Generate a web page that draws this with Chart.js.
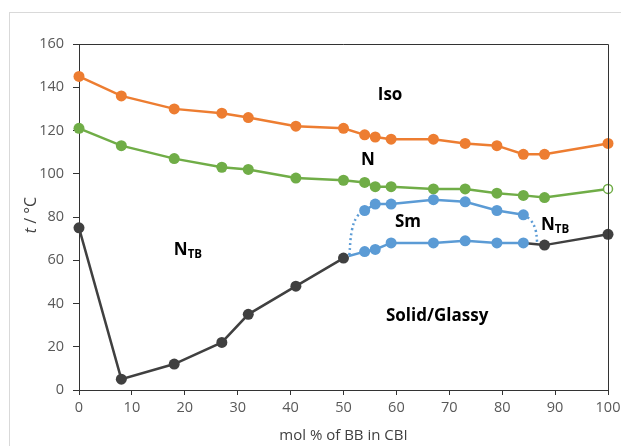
<!DOCTYPE html>
<html>
<head>
<meta charset="utf-8">
<script src="https://cdn.jsdelivr.net/npm/chart.js@4"></script>
<style>
  html, body { margin: 0; padding: 0; background: #fff; }
  #wrap { width: 621px; height: 446px; position: relative; }
</style>
</head>
<body>
<div id="wrap"><canvas id="phase" width="621" height="446"></canvas></div>
<script>
// composition, mol % of BB in CBI
const xIso = [0, 8, 18, 27, 32, 41, 50, 54, 56, 59, 67, 73, 79, 84, 88, 100];
const tIso = [145, 136, 130, 128, 126, 122, 121, 118, 117, 116, 116, 114, 113, 109, 109, 114];

const xN = [0, 8, 18, 27, 32, 41, 50, 54, 56, 59, 67, 73, 79, 84, 88, 100];
const tN = [121, 113, 107, 103, 102, 98, 97, 96, 94, 94, 93, 93, 91, 90, 89, 93];

// melting / glass line, split where the smectic region sits on it
const xSolidA = [0, 8, 18, 27, 32, 41, 50];
const tSolidA = [75, 5, 12, 22, 35, 48, 61];
const xSolidB = [84, 88, 100];
const tSolidB = [68, 67, 72];

// smectic dome
const xSmUp = [54, 56, 59, 67, 73, 79, 84];
const tSmUp = [83, 86, 86, 88, 87, 83, 81];
const xSmLow = [51, 54, 56, 59, 67, 73, 79, 84];
const tSmLow = [62, 64, 65, 68, 68, 69, 68, 68];

// dotted (estimated) edges of the dome
const xDotL = [51.1, 51.6, 52.6, 54];
const tDotL = [62.4, 74, 80.3, 83];
const xDotR = [84, 85.4, 86.3, 86.6];
const tDotR = [81, 78.5, 74, 68.5];

const xTicks = [0, 10, 20, 30, 40, 50, 60, 70, 80, 90, 100];
const yTicks = [0, 20, 40, 60, 80, 100, 120, 140, 160];

// region labels: [text, subscript, x, t]
const regionLabels = [
  ['Iso', '', 58.8, 136.4],
  ['N', '', 54.6, 106.4],
  ['Sm', '', 62.2, 77.7],
  ['N', 'TB', 90, 76.3],
  ['N', 'TB', 20.6, 64.7],
  ['Solid/Glassy', '', 67.7, 34.2]
];

const ORANGE = '#ED7D31', GREEN = '#70AD47', BLUE = '#5B9BD5', DARK = '#404040';
const AXIS = '#333333', TEXT = '#595959';

function pts(xs, ys) {
  return xs.map((x, i) => ({ x: x, y: ys[i] }));
}

function series(label, xs, ys, color, extra) {
  return Object.assign({
    label: label,
    data: pts(xs, ys),
    showLine: true,
    clip: false,
    borderColor: color,
    backgroundColor: color,
    borderWidth: 2.5,
    pointRadius: 5.5,
    pointHoverRadius: 5.5,
    pointBorderWidth: 0,
    tension: 0
  }, extra || {});
}

// frame round the plot, chart border, y title and region labels
const decor = {
  id: 'decor',
  beforeDraw(chart) {
    const c = chart.ctx;
    c.save();
    c.strokeStyle = '#d9d9d9';
    c.lineWidth = 1;
    c.strokeRect(9.5, 12.5, 700, 500);
    c.restore();
  },
  afterDatasetsDraw(chart) {
    const c = chart.ctx, a = chart.chartArea;
    const xs = chart.scales.x, ys = chart.scales.y;
    c.save();
    c.strokeStyle = AXIS;
    c.lineWidth = 1;
    c.beginPath();
    c.moveTo(a.left, a.top + 0.5);
    c.lineTo(a.right + 0.5, a.top + 0.5);
    c.lineTo(a.right + 0.5, a.bottom);
    c.stroke();

    // y title: italic t
    c.translate(31, 215);
    c.rotate(-Math.PI / 2);
    c.fillStyle = '#404040';
    c.textBaseline = 'middle';
    c.font = 'italic 16px "Open Sans"';
    const w1 = c.measureText('t').width;
    c.font = '16px "Open Sans"';
    const w2 = c.measureText(' / °C').width;
    const sx = -(w1 + w2) / 2;
    c.textAlign = 'left';
    c.font = 'italic 16px "Open Sans"';
    c.fillText('t', sx, 0);
    c.font = '16px "Open Sans"';
    c.fillText(' / °C', sx + w1, 0);
    c.restore();

    c.save();
    c.fillStyle = '#000';
    c.textBaseline = 'middle';
    c.textAlign = 'left';
    regionLabels.forEach(([txt, sub, x, t]) => {
      c.font = 'bold 17px "Open Sans"';
      const wm = c.measureText(txt).width;
      c.font = 'bold 11.5px "Open Sans"';
      const ws = sub ? c.measureText(sub).width : 0;
      const px = xs.getPixelForValue(x) - (wm + ws) / 2;
      const py = ys.getPixelForValue(t);
      c.font = 'bold 17px "Open Sans"';
      c.fillText(txt, px, py);
      if (sub) {
        c.font = 'bold 11.5px "Open Sans"';
        c.fillText(sub, px + wm, py + 5);
      }
    });
    c.restore();
  }
};

const tickFont = { family: '"Open Sans"', size: 14.5 };

new Chart(document.getElementById('phase'), {
  type: 'scatter',
  data: {
    datasets: [
      series('Sm lower', xSmLow, tSmLow, BLUE, { pointRadius: xSmLow.map((x, i) => i === 0 ? 0 : 5.5) }),
      series('Sm upper', xSmUp, tSmUp, BLUE),
      series('Sm edge L', xDotL, tDotL, BLUE, { pointRadius: 0, borderDash: [2, 3], tension: 0.4 }),
      series('Sm edge R', xDotR, tDotR, BLUE, { pointRadius: 0, borderDash: [2, 3], tension: 0.4 }),
      series('Iso', xIso, tIso, ORANGE),
      series('N', xN, tN, GREEN, {
        pointBackgroundColor: xN.map((x, i) => i === xN.length - 1 ? '#fff' : GREEN),
        pointBorderWidth: xN.map((x, i) => i === xN.length - 1 ? 1.5 : 0),
        pointRadius: xN.map((x, i) => i === xN.length - 1 ? 4.5 : 5.5)
      }),
      series('Solid B', xSolidB, tSolidB, DARK, { pointRadius: [0, 5.5, 5.5] }),
      series('Solid A', xSolidA, tSolidA, DARK)
    ]
  },
  options: {
    responsive: false,
    animation: false,
    layout: { padding: { left: 0, right: 13, top: 44, bottom: 0 } },
    plugins: { legend: { display: false }, tooltip: { enabled: false } },
    scales: {
      x: {
        type: 'linear',
        min: 0, max: 100,
        afterBuildTicks: s => { s.ticks = xTicks.map(v => ({ value: v })); },
        afterFit: s => { s.height = 56; s.paddingLeft = 0; s.paddingRight = 0; },
        ticks: { color: TEXT, font: tickFont, padding: 4, maxRotation: 0 },
        grid: { drawOnChartArea: false, drawTicks: true, tickLength: 5, color: AXIS },
        border: { color: AXIS, width: 1 },
        title: {
          display: true,
          text: 'mol % of BB in CBI',
          color: '#404040',
          font: { family: '"Open Sans"', size: 15 },
          padding: { top: 0, bottom: 1 }
        }
      },
      y: {
        min: 0, max: 160,
        afterBuildTicks: s => { s.ticks = yTicks.map(v => ({ value: v })); },
        afterFit: s => { s.width = 79; s.paddingTop = 0; s.paddingBottom = 0; },
        ticks: { color: TEXT, font: tickFont, padding: 9 },
        grid: { drawOnChartArea: false, drawTicks: true, tickLength: 6, color: AXIS },
        border: { color: AXIS, width: 1 }
      }
    }
  },
  plugins: [decor]
});
</script>
</body>
</html>
